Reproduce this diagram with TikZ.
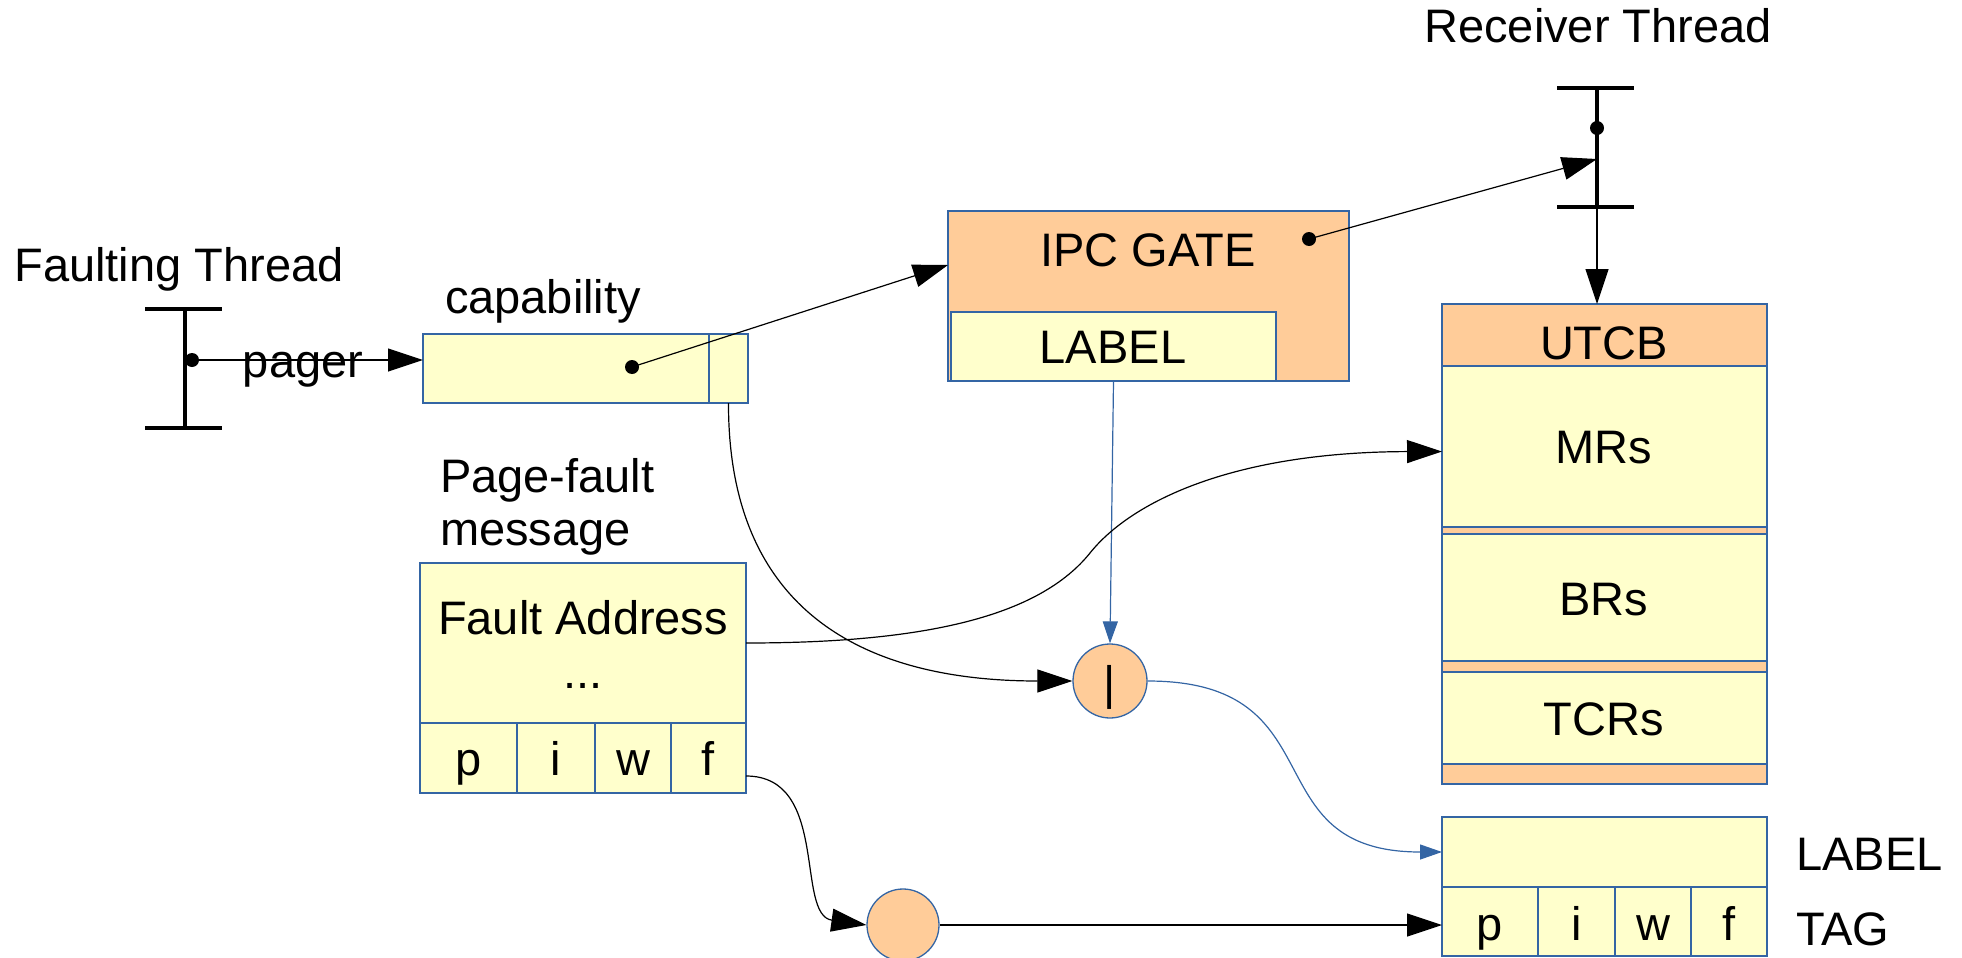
\documentclass[tikz,border=0pt]{standalone}
\usepackage{fontspec}
\setmainfont{Liberation Sans}
\usetikzlibrary{arrows.meta,calc}
\definecolor{ybg}{HTML}{FFFFCC}
\definecolor{obg}{HTML}{FFCC99}
\definecolor{bln}{HTML}{3465A4}
\begin{document}
\begin{tikzpicture}[x=1pt,y=-1pt,
  box/.style={draw=bln, line width=1.3pt, inner sep=0pt, outer sep=0pt, anchor=north west},
  ybox/.style={box, fill=ybg},
  obox/.style={box, fill=obg},
  txt/.style={font=\fontsize{47}{56}\selectfont, inner sep=0pt, anchor=base},
  ltxt/.style={txt, anchor=base west},
  tbar/.style={line width=4pt},
  blk/.style={line width=1.2pt, -{Triangle[length=35pt,width=23pt]}},
  blu/.style={draw=bln, line width=1.2pt, -{Triangle[length=22pt,width=15pt]}},
  circ/.style={circle, draw=bln, fill=obg, line width=1.3pt, inner sep=0pt}
]
\useasboundingbox (0,0) rectangle (1962,958);

% ---- Faulting thread
\node[txt] (ftname) at (179,281) {Faulting Thread};
\draw[tbar] (145,309) -- (222,309) (185,309) -- (185,428) (145,428) -- (222,428);
\coordinate (fdot) at (192,360);

% ---- capability
\node[txt] (captxt) at (543,313) {capability};
\node[ybox, minimum width=325pt, minimum height=69pt] (cap) at (423,334) {};
\node[ybox, minimum width=39pt, minimum height=69pt] (capsub) at (709,334) {};
\coordinate (capdot) at (632,367);
\node[txt] (pager) at (303,377) {pager};

% ---- IPC gate
\node[obox, minimum width=401pt, minimum height=170pt] (ipc) at (948,211) {};
\node[ybox, minimum width=325pt, minimum height=69pt] (ipclabel) at (951,312) {};
\node[txt] (ipctxt) at (1148,266) {IPC GATE};
\node[txt] (ipclbltxt) at (1113,363) {LABEL};
\coordinate (ipcdot) at (1309,239);
\coordinate (ipcin) at (948,265);

% ---- Receiver thread
\node[txt] (rtname) at (1598,43) {Receiver Thread};
\draw[tbar] (1557,88) -- (1634,88) (1597,88) -- (1597,207) (1557,207) -- (1634,207);
\coordinate (rdot) at (1597,128);
\coordinate (rhit) at (1597,159);
\coordinate (rbot) at (1597,207);

% ---- UTCB
\node[obox, minimum width=325pt, minimum height=480pt] (utcb) at (1442,304) {};
\node[ybox, minimum width=325pt, minimum height=161pt] (mrs) at (1442,366) {};
\node[ybox, minimum width=325pt, minimum height=127pt] (brs) at (1442,534) {};
\node[ybox, minimum width=325pt, minimum height=92pt] (tcrs) at (1442,672) {};
\node[txt] (utcbtxt) at (1604,359) {UTCB};
\node[txt] (mrstxt) at (1604,463) {MRs};
\node[txt] (brstxt) at (1604,615) {BRs};
\node[txt] (tcrstxt) at (1604,735) {TCRs};

% ---- Page-fault message
\node[ltxt] (pf1) at (440,492) {Page-fault};
\node[ltxt] (pf2) at (440,545) {message};
\node[ybox, minimum width=326pt, minimum height=160pt] (fault) at (420,563) {};
\node[ybox, minimum width=97pt, minimum height=70pt] (fp) at (420,723) {};
\node[ybox, minimum width=78pt, minimum height=70pt] (fi) at (517,723) {};
\node[ybox, minimum width=76pt, minimum height=70pt] (fw) at (595,723) {};
\node[ybox, minimum width=75pt, minimum height=70pt] (ff) at (671,723) {};
\node[txt] (fatxt) at (583,634) {Fault Address};
\node[txt] (dots) at (583,688) {...};
\node[txt] (fptxt) at (468.5,775) {p};
\node[txt] (fitxt) at (556,775) {i};
\node[txt] (fwtxt) at (633,775) {w};
\node[txt] (fftxt) at (708.5,775) {f};

% ---- circles
\node[circ, minimum size=74pt] (orop) at (1110,681) {};
\node[txt] (ortxt) at (1110,699) {|};
\node[circ, minimum size=72pt] (c2) at (903,925) {};

% ---- receiver label / tag
\node[ybox, minimum width=325pt, minimum height=70pt] (rlabel) at (1442,817) {};
\node[ybox, minimum width=96pt, minimum height=69pt] (tp) at (1442,887) {};
\node[ybox, minimum width=77pt, minimum height=69pt] (ti) at (1538,887) {};
\node[ybox, minimum width=76pt, minimum height=69pt] (tw) at (1615,887) {};
\node[ybox, minimum width=76pt, minimum height=69pt] (tf) at (1691,887) {};
\node[txt] (tptxt) at (1490,940) {p};
\node[txt] (titxt) at (1576.5,940) {i};
\node[txt] (twtxt) at (1653,940) {w};
\node[txt] (tftxt) at (1729,940) {f};
\node[ltxt] (rlbltxt) at (1796,870) {LABEL};
\node[ltxt] (tagtxt) at (1796,945) {TAG};

% ---- connectors
\draw[blk] (fdot) -- (fdot -| cap.west);
\draw[blk] (capdot) -- (ipcin);
\draw[blk] (ipcdot) -- (rhit);
\draw[line width=1.1pt, -{Triangle[length=35pt,width=23pt]}] (rbot) -- (rbot |- utcb.north);
\draw[blk] (capsub.south) .. controls (728,600) and (850,681) .. (orop.west);
\draw[blu] (ipclabel.south) -- (orop.north);
\coordinate (mrsin) at ($(mrs.west)+(0,5)$);
\draw[blk] (fault.east) .. controls (930,643) and (1040,615) .. (1090,553)
  .. controls (1130,503) and (1230,452) .. (mrsin);
\draw[blu] (orop.east) .. controls (1340,681) and (1250,852) .. (rlabel.west);
\coordinate (ffout) at ($(ff.south east)+(0,-17)$);
\draw[blk] (ffout) .. controls (830,776) and (795,915) .. (c2.west);
\draw[blk] (c2.east) -- (c2.east -| tp.west);

% dots
\fill (fdot) circle[radius=7pt];
\fill (capdot) circle[radius=7pt];
\fill (ipcdot) circle[radius=7pt];
\fill (rdot) circle[radius=7pt];
\end{tikzpicture}
\end{document}
